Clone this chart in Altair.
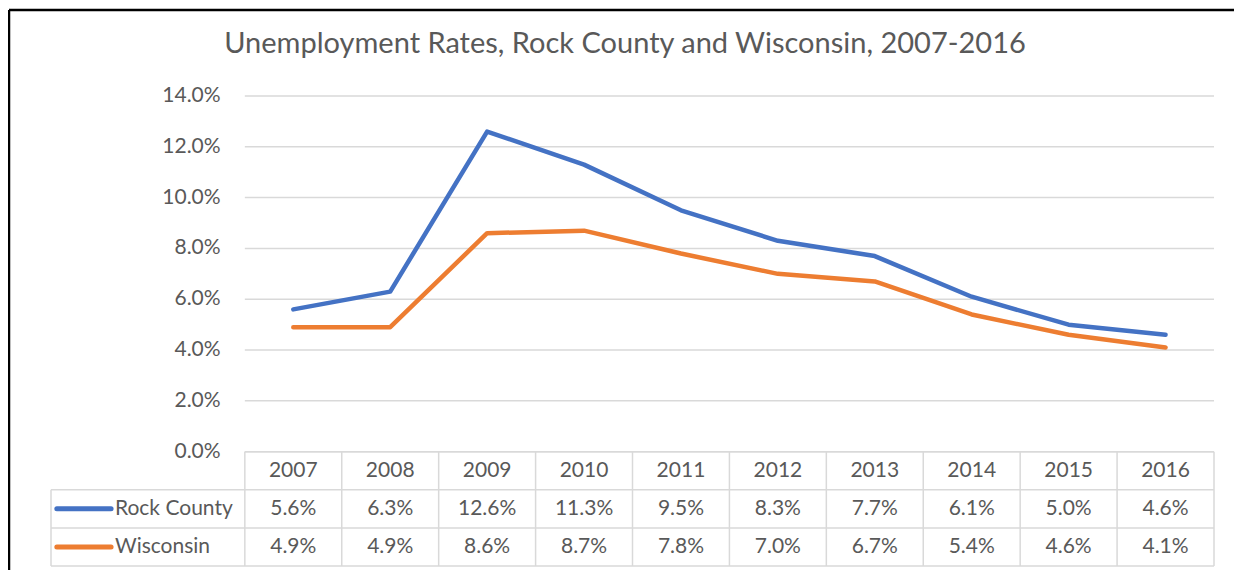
import altair as alt
import pandas as pd

years = ["2007", "2008", "2009", "2010", "2011", "2012", "2013", "2014", "2015", "2016"]
rock_county = [5.6, 6.3, 12.6, 11.3, 9.5, 8.3, 7.7, 6.1, 5.0, 4.6]
wisconsin = [4.9, 4.9, 8.6, 8.7, 7.8, 7.0, 6.7, 5.4, 4.6, 4.1]
series_names = ["Rock County", "Wisconsin"]
series_colors = ["#4472C4", "#ED7D31"]
y_ticks = [0, 2, 4, 6, 8, 10, 12, 14]
title_text = "Unemployment Rates, Rock County and Wisconsin, 2007-2016"

FONT = "Lato"
TXT = "#595959"
GRID = "#d9d9d9"
FS = 21

n = len(years)
pos = [i + 0.5 for i in range(n)]
ROW = 1.5  # table row height in y units

xs = alt.Scale(domain=[-2, n], nice=False, zero=False)
ys = alt.Scale(domain=[-3 * ROW, 14], nice=False, zero=False)
cs = alt.Scale(domain=series_names, range=series_colors)

long = pd.DataFrame({
    "pos": pos * 2,
    "year": years * 2,
    "series": [series_names[0]] * n + [series_names[1]] * n,
    "value": rock_county + wisconsin,
})
long["label"] = long["value"].map(lambda v: f"{v:.1f}%")
long["rowy"] = [-1.5 * ROW] * n + [-2.5 * ROW] * n

ticks = pd.DataFrame({"v": y_ticks, "label": [f"{t:.1f}%" for t in y_ticks]})
ticks["x0"] = 0
ticks["x1"] = n
ticks["xl"] = -0.25

hdr = pd.DataFrame({"pos": pos, "year": years, "rowy": [-0.5 * ROW] * n})

legend_df = pd.DataFrame({
    "series": series_names,
    "rowy": [-1.5 * ROW, -2.5 * ROW],
    "lx1": [-1.94, -1.94],
    "lx2": [-1.38, -1.38],
    "tx": [-1.34, -1.34],
})

X = lambda f: alt.X(f, scale=xs, axis=None)
Y = lambda f: alt.Y(f, scale=ys, axis=None)

grid = alt.Chart(ticks).mark_rule(color=GRID, strokeWidth=1.5).encode(
    y=Y("v:Q"), x=X("x0:Q"), x2="x1:Q")

ylab = alt.Chart(ticks).mark_text(align="right", baseline="middle", font=FONT,
                                  fontSize=FS, color=TXT).encode(
    y=Y("v:Q"), x=X("xl:Q"), text="label:N")

lines = alt.Chart(long).mark_line(strokeWidth=4.5, strokeCap="round", strokeJoin="round").encode(
    x=X("pos:Q"), y=Y("value:Q"),
    color=alt.Color("series:N", scale=cs, legend=None))

vert = pd.DataFrame({"x": list(range(0, n + 1)), "y1": [0.0] * (n + 1), "y2": [-3 * ROW] * (n + 1)})
vert = pd.concat([vert, pd.DataFrame({"x": [-2], "y1": [-ROW], "y2": [-3 * ROW]})], ignore_index=True)
horiz = pd.DataFrame({"y": [0.0, -ROW, -2 * ROW, -3 * ROW], "x1": [0, -2, -2, -2], "x2": [n, n, n, n]})

vrules = alt.Chart(vert).mark_rule(color=GRID, strokeWidth=1.5).encode(
    x=X("x:Q"), y=Y("y1:Q"), y2="y2:Q")
hrules = alt.Chart(horiz).mark_rule(color=GRID, strokeWidth=1.5).encode(
    y=Y("y:Q"), x=X("x1:Q"), x2="x2:Q")

hdr_text = alt.Chart(hdr).mark_text(font=FONT, fontSize=FS, color=TXT, baseline="middle").encode(
    x=X("pos:Q"), y=Y("rowy:Q"), text="year:N")

val_text = alt.Chart(long).mark_text(font=FONT, fontSize=FS, color=TXT, baseline="middle").encode(
    x=X("pos:Q"), y=Y("rowy:Q"), text="label:N")

leg_line = alt.Chart(legend_df).mark_rule(strokeWidth=5, strokeCap="round").encode(
    x=X("lx1:Q"), x2="lx2:Q", y=Y("rowy:Q"),
    color=alt.Color("series:N", scale=cs, legend=None))

leg_text = alt.Chart(legend_df).mark_text(font=FONT, fontSize=FS, color=TXT, align="left",
                                          baseline="middle").encode(
    x=X("tx:Q"), y=Y("rowy:Q"), text="series:N")

title_mark = alt.Chart(pd.DataFrame({"t": [title_text]})).mark_text(
    font=FONT, fontSize=29, color=TXT, align="center", baseline="middle").encode(
    x=alt.value(574), y=alt.value(-52), text="t:N")

frame_top = alt.Chart(pd.DataFrame({"k": [1]})).mark_rule(color="black", strokeWidth=2.5).encode(
    x=alt.value(-42), x2=alt.value(1200), y=alt.value(-86))
frame_left = alt.Chart(pd.DataFrame({"k": [1]})).mark_rule(color="black", strokeWidth=2.5).encode(
    x=alt.value(-42), y=alt.value(-86), y2=alt.value(490))

chart = alt.layer(grid, ylab, vrules, hrules, hdr_text, val_text, lines, leg_line, leg_text,
                  title_mark, frame_top, frame_left).properties(
    width=1163, height=470,
    padding={"left": 43, "top": 88, "right": 20, "bottom": 4},
    autosize=alt.AutoSizeParams(type="none"),
    background="white",
).configure_view(stroke=None)

chart.save("out.html", embed_options={"renderer": "svg", "actions": False})
